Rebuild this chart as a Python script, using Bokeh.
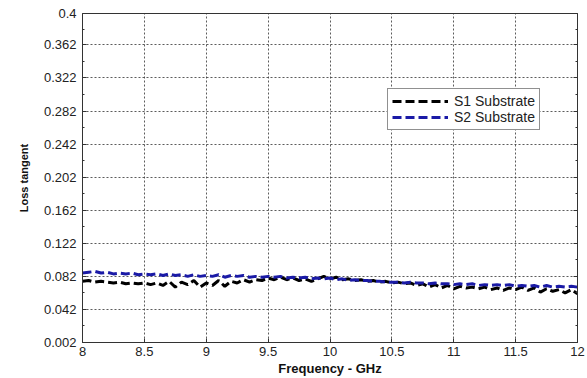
from bokeh.plotting import figure
from bokeh.models import (FixedTicker, LinearAxis, Legend, LegendItem, Range1d,
                          CustomLabelingPolicy)
from bokeh.embed import file_html
from bokeh.resources import INLINE

freq = [8.00, 8.05, 8.10, 8.15, 8.20, 8.25, 8.30, 8.35, 8.40, 8.45,
        8.50, 8.55, 8.60, 8.65, 8.70, 8.75, 8.80, 8.85, 8.90, 8.95,
        9.00, 9.05, 9.10, 9.15, 9.20, 9.25, 9.30, 9.35, 9.40, 9.45,
        9.50, 9.55, 9.60, 9.65, 9.70, 9.75, 9.80, 9.85, 9.90, 9.95,
        10.00, 10.05, 10.10, 10.15, 10.20, 10.25, 10.30, 10.35, 10.40, 10.45,
        10.50, 10.55, 10.60, 10.65, 10.70, 10.75, 10.80, 10.85, 10.90, 10.95,
        11.00, 11.05, 11.10, 11.15, 11.20, 11.25, 11.30, 11.35, 11.40, 11.45,
        11.50, 11.55, 11.60, 11.65, 11.70, 11.75, 11.80, 11.85, 11.90, 11.95,
        12.00]

s1 = [0.076, 0.077, 0.075, 0.076, 0.075, 0.074, 0.075, 0.073, 0.074, 0.073,
      0.074, 0.072, 0.074, 0.071, 0.076, 0.069, 0.075, 0.072, 0.077, 0.069,
      0.074, 0.071, 0.077, 0.070, 0.076, 0.074, 0.078, 0.075, 0.078, 0.077,
      0.080, 0.078, 0.081, 0.078, 0.080, 0.077, 0.079, 0.076, 0.079, 0.082,
      0.079, 0.081, 0.078, 0.079, 0.077, 0.078, 0.076, 0.077, 0.075, 0.076,
      0.074, 0.075, 0.073, 0.074, 0.071, 0.073, 0.069, 0.072, 0.068, 0.071,
      0.067, 0.070, 0.068, 0.069, 0.067, 0.069, 0.066, 0.068, 0.065, 0.068,
      0.066, 0.069, 0.065, 0.068, 0.063, 0.067, 0.064, 0.066, 0.062, 0.066,
      0.061]

s2 = [0.086, 0.087, 0.088, 0.086, 0.087, 0.085, 0.086, 0.085, 0.086, 0.084,
      0.085, 0.084, 0.085, 0.083, 0.085, 0.083, 0.084, 0.082, 0.084, 0.082,
      0.083, 0.082, 0.084, 0.081, 0.083, 0.082, 0.083, 0.081, 0.082, 0.081,
      0.082, 0.081, 0.082, 0.080, 0.081, 0.080, 0.081, 0.079, 0.080, 0.079,
      0.080, 0.078, 0.079, 0.077, 0.078, 0.077, 0.077, 0.076, 0.076, 0.075,
      0.075, 0.075, 0.074, 0.075, 0.074, 0.074, 0.073, 0.074, 0.073, 0.073,
      0.072, 0.073, 0.072, 0.073, 0.071, 0.072, 0.071, 0.072, 0.071, 0.072,
      0.070, 0.071, 0.070, 0.071, 0.069, 0.071, 0.069, 0.070, 0.069, 0.070,
      0.069]

series_names = ["S1 Substrate", "S2 Substrate"]

x_ticks = [8, 8.5, 9, 9.5, 10, 10.5, 11, 11.5, 12]
x_tick_labels = ["8", "8.5", "9", "9.5", "10", "10.5", "11", "11.5", "12"]
y_ticks = [0.002, 0.042, 0.082, 0.122, 0.162, 0.202, 0.242, 0.282, 0.322, 0.362, 0.4]
y_tick_labels = ["0.002", "0.042", "0.082", "0.122", "0.162", "0.202", "0.242",
                 "0.282", "0.322", "0.362", "0.4"]

FONT = "Liberation Sans"
AXC = "#333333"

p = figure(width=587, height=378, output_backend="svg", toolbar_location=None,
           x_range=Range1d(8, 12), y_range=Range1d(0.002, 0.4),
           min_border_left=82, min_border_right=10, min_border_top=13, min_border_bottom=34)
p.background_fill_color = "white"
p.border_fill_color = "white"
p.outline_line_color = AXC
p.outline_line_width = 1

y_minor = [(y_ticks[i] + y_ticks[i + 1]) / 2 for i in range(len(y_ticks) - 1)]
yt = FixedTicker(ticks=y_ticks, minor_ticks=y_minor)
xt = FixedTicker(ticks=x_ticks)

p.xaxis.ticker = xt
p.yaxis.ticker = yt
p.xaxis.major_label_overrides = dict(zip(x_ticks, x_tick_labels))
p.yaxis.major_label_overrides = dict(zip(y_ticks, y_tick_labels))

for ax in (p.xaxis[0], p.yaxis[0]):
    ax.major_tick_in = 4
    ax.major_tick_out = 0
    ax.minor_tick_in = 2
    ax.minor_tick_out = 0
    ax.axis_line_color = AXC
    ax.major_tick_line_color = AXC
    ax.minor_tick_line_color = AXC
    ax.major_label_text_font = FONT
    ax.major_label_text_font_size = "13px"
    ax.major_label_text_color = "#222222"
    ax.axis_label_text_font = FONT
    ax.axis_label_text_color = "#111111"
    ax.axis_label_text_font_style = "bold"
p.xaxis.minor_tick_line_color = None
p.xaxis.major_label_standoff = 4
p.yaxis.major_label_standoff = 6
p.xaxis.axis_label = "Frequency - GHz"
p.xaxis.axis_label_text_font_size = "13px"
p.xaxis.axis_label_standoff = 2
p.yaxis.axis_label = "Loss tangent"
p.yaxis.axis_label_text_font_size = "11px"
p.yaxis.axis_label_standoff = 11

ra = LinearAxis(ticker=yt, major_label_standoff=0, major_label_text_font_size="1px",
                major_label_policy=CustomLabelingPolicy(code="return new Set()"),
                major_tick_in=4, major_tick_out=0, minor_tick_in=2, minor_tick_out=0,
                axis_line_color=AXC, major_tick_line_color=AXC,
                minor_tick_line_color=AXC)
p.add_layout(ra, "right")

p.xgrid.grid_line_color = "#333333"
p.ygrid.grid_line_color = "#333333"
p.xgrid.grid_line_dash = "2 2"
p.ygrid.grid_line_dash = "2 2"
p.xgrid.grid_line_alpha = 0.8
p.ygrid.grid_line_alpha = 0.8

r1 = p.line(freq, s1, line_color="black", line_width=3, line_dash="9 4")
r2 = p.line(freq, s2, line_color="#1a1aa6", line_width=3, line_dash="9 4")

legend = Legend(items=[LegendItem(label=series_names[0], renderers=[r1]),
                       LegendItem(label=series_names[1], renderers=[r2])],
                location=(305, 212))
legend.border_line_color = "#222222"
legend.border_line_width = 1
legend.background_fill_color = "white"
legend.background_fill_alpha = 1
legend.label_text_font = FONT
legend.label_text_font_size = "14px"
legend.label_text_color = "#222222"
legend.glyph_width = 56
legend.glyph_height = 12
legend.label_height = 12
legend.spacing = 0
legend.padding = 4
legend.margin = 0
legend.label_standoff = 6
p.add_layout(legend, "center")

open("out.html", "w").write(file_html(p, INLINE))
